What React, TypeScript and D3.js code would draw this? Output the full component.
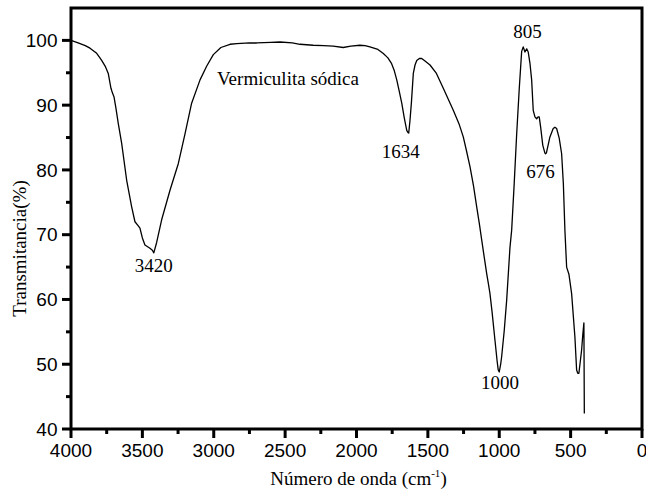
import React from "react";
import * as d3 from "d3";

// FTIR spectrum of sodium vermiculite: wavenumber (cm-1) and transmittance (%)
const wavenumbers = [
  4000, 3950, 3900, 3867, 3820, 3785, 3760, 3739, 3720, 3710, 3699, 3685, 3669, 3645, 3610, 3575,
  3552, 3530, 3517, 3500, 3482, 3447, 3430, 3420, 3400, 3365, 3306, 3248, 3201, 3155, 3096, 3050,
  3003, 2950, 2886, 2839, 2750, 2699, 2600, 2536, 2450, 2396, 2303, 2230, 2163, 2093, 2040, 1976,
  1940, 1906, 1850, 1812, 1780, 1754, 1735, 1718, 1700, 1683, 1665, 1648, 1640, 1634, 1625, 1615,
  1602, 1590, 1578, 1560, 1543, 1520, 1485, 1440, 1392, 1322, 1280, 1252, 1230, 1205, 1180, 1158,
  1140, 1123, 1105, 1088, 1075, 1065, 1050, 1030, 1015, 1007, 1000, 990, 983, 965, 948, 925,
  913, 895, 878, 860, 843, 832, 820, 808, 797, 785, 773, 762, 750, 738, 728, 720,
  710, 695, 680, 676, 670, 658, 645, 622, 610, 598, 580, 563, 551, 540, 528, 512,
  493, 470, 458, 450, 442, 432, 423, 415, 407, 404,
];

const transmittance = [
  100.0, 99.6, 99.2, 98.8, 98.0, 96.9, 96.0, 94.9, 92.6, 91.9, 91.3, 89.5, 87.2, 84.1, 78.4, 74.3,
  72.0, 71.4, 71.0, 69.5, 68.4, 67.9, 67.6, 67.2, 68.8, 72.3, 76.9, 81.0, 85.6, 90.3, 93.9, 96.0,
  97.8, 98.9, 99.4, 99.5, 99.6, 99.6, 99.7, 99.75, 99.6, 99.4, 99.25, 99.2, 99.1, 98.9, 99.1, 99.25,
  99.2, 99.0, 98.6, 97.97, 97.3, 96.4, 95.3, 93.9, 92.1, 90.3, 88.0, 86.1, 85.8, 85.7, 87.7, 90.5,
  94.9, 96.2, 96.9, 97.2, 97.2, 96.8, 96.2, 94.9, 92.6, 89.2, 87.0, 85.1, 83.0, 80.5, 77.5, 74.3,
  71.8, 69.2, 66.5, 64.0, 62.3, 60.9, 58.0, 53.7, 50.5, 49.1, 48.8, 50.0, 51.2, 55.2, 59.9, 68.0,
  70.7, 78.0, 85.5, 92.5, 98.3, 99.0, 98.2, 98.7, 98.2, 96.5, 93.9, 89.2, 88.2, 87.9, 88.2, 88.2,
  86.6, 83.8, 82.6, 82.5, 82.6, 83.8, 85.1, 86.4, 86.6, 86.4, 84.9, 82.5, 77.9, 70.7, 65.0, 63.9,
  60.9, 54.2, 49.1, 48.6, 48.6, 50.5, 52.2, 54.5, 56.4, 42.4,
];

// Band labels and where they sit (wavenumber, transmittance of the text baseline)
const peakLabels = ["3420", "1634", "1000", "805", "676"];
const peakLabelX = [3420, 1690, 995, 802, 711];
const peakLabelY = [64.3, 81.8, 46.2, 100.4, 78.7];

const xTicks = [4000, 3500, 3000, 2500, 2000, 1500, 1000, 500, 0];
const yTicks = [40, 50, 60, 70, 80, 90, 100];

const W = 646;
const H = 502;
const left = 71;
const right = 642;
const top = 8;
const bottom = 429;

export default function App() {
  const x = d3.scaleLinear().domain([4000, 0]).range([left, right]);
  const y = d3.scaleLinear().domain([40, 105]).range([bottom, top]);

  const points: [number, number][] = wavenumbers.map((w, i) => [w, transmittance[i]]);
  const line = d3
    .line<[number, number]>()
    .x((d) => x(d[0]))
    .y((d) => y(d[1]));

  const xMinor = d3.range(4000, -1, -250).filter((v) => v % 500 !== 0);
  const yMinor = d3.range(45, 105, 10);

  const sans = "'Liberation Sans', Arial, sans-serif";
  const serif = "'Liberation Serif', 'Times New Roman', serif";

  return (
    <svg
      width={W}
      height={H}
      viewBox={`0 0 ${W} ${H}`}
      style={{ position: "absolute", left: 0, top: 0, background: "#fff" }}
    >
      <rect x={0} y={0} width={W} height={H} fill="#fff" />

      {/* spectrum */}
      <path d={line(points) ?? ""} fill="none" stroke="#000" strokeWidth={1.3} strokeLinejoin="round" />

      {/* frame */}
      <rect
        x={left}
        y={top}
        width={right - left}
        height={bottom - top}
        fill="none"
        stroke="#000"
        strokeWidth={3}
      />

      {/* x axis ticks */}
      {xTicks.map((t) => (
        <g key={`xt${t}`}>
          <line x1={x(t)} x2={x(t)} y1={bottom} y2={bottom + 9} stroke="#000" strokeWidth={3} />
          <text x={x(t)} y={457} textAnchor="middle" fontFamily={sans} fontSize={19} fill="#000">
            {t}
          </text>
        </g>
      ))}
      {xMinor.map((t) => (
        <line key={`xm${t}`} x1={x(t)} x2={x(t)} y1={bottom} y2={bottom + 5} stroke="#000" strokeWidth={3} />
      ))}

      {/* y axis ticks */}
      {yTicks.map((t) => (
        <g key={`yt${t}`}>
          <line x1={left} x2={left - 9} y1={y(t)} y2={y(t)} stroke="#000" strokeWidth={3} />
          <text
            x={57.5}
            y={y(t)}
            dy="0.35em"
            textAnchor="end"
            fontFamily={sans}
            fontSize={19}
            fill="#000"
          >
            {t}
          </text>
        </g>
      ))}
      {yMinor.map((t) => (
        <line key={`ym${t}`} x1={left} x2={left - 5} y1={y(t)} y2={y(t)} stroke="#000" strokeWidth={3} />
      ))}

      {/* axis titles */}
      <text x={(left + right) / 2 + 2} y={485} textAnchor="middle" fontFamily={serif} fontSize={19} fill="#000">
        Número de onda (cm
        <tspan fontSize={11} dy={-8}>
          -1
        </tspan>
        <tspan dy={8}>)</tspan>
      </text>
      <text
        transform={`translate(26, ${(top + bottom) / 2 + 30}) rotate(-90)`}
        textAnchor="middle"
        fontFamily={serif}
        fontSize={19}
        fill="#000"
      >
        Transmitancia(%)
      </text>

      {/* sample name */}
      <text x={217} y={85} fontFamily={serif} fontSize={19} fill="#000">
        Vermiculita sódica
      </text>

      {/* band labels */}
      {peakLabels.map((lab, i) => (
        <text
          key={lab}
          x={x(peakLabelX[i])}
          y={y(peakLabelY[i])}
          textAnchor="middle"
          fontFamily={serif}
          fontSize={19}
          fill="#000"
        >
          {lab}
        </text>
      ))}
    </svg>
  );
}
